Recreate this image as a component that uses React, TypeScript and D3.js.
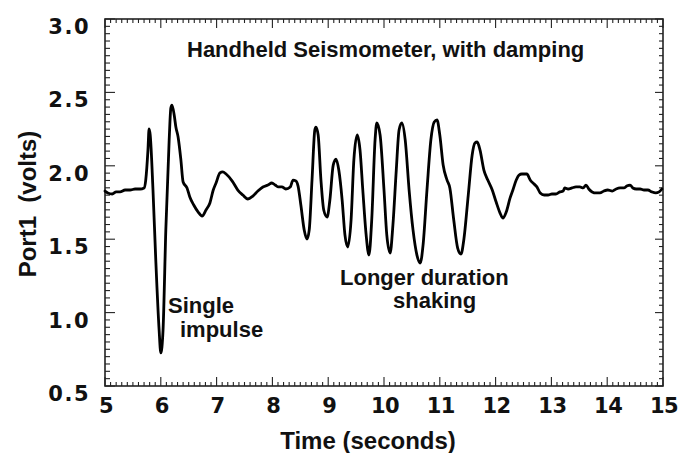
import React from "react";
import * as d3 from "d3";

const timeSec: number[] = [
  5.0, 5.05, 5.13, 5.2, 5.27, 5.36, 5.45, 5.54, 5.63, 5.7, 5.73, 5.77, 5.79, 5.81, 5.86, 5.91, 5.97, 6.0,
  6.04, 6.09, 6.15, 6.18, 6.2, 6.24, 6.27, 6.31, 6.36, 6.4, 6.47, 6.52, 6.59, 6.67, 6.74, 6.81, 6.88,
  6.94, 6.99, 7.06, 7.11, 7.17, 7.28, 7.38, 7.47, 7.56, 7.65, 7.74, 7.83, 7.92, 7.99, 8.05, 8.1, 8.17,
  8.24, 8.32, 8.37, 8.42, 8.46, 8.51, 8.57, 8.62, 8.66, 8.71, 8.76, 8.78, 8.82, 8.87, 8.92, 8.98, 9.03,
  9.09, 9.14, 9.19, 9.25, 9.3, 9.35, 9.41, 9.46, 9.52, 9.57, 9.62, 9.68, 9.73, 9.78, 9.84, 9.87, 9.93,
  10.0, 10.05, 10.11, 10.16, 10.22, 10.27, 10.32, 10.38, 10.45, 10.52, 10.59, 10.65, 10.7, 10.77, 10.84,
  10.9, 10.95, 11.0, 11.06, 11.13, 11.18, 11.25, 11.32, 11.38, 11.43, 11.51, 11.58, 11.63, 11.67, 11.72,
  11.79, 11.86, 11.94, 12.01, 12.08, 12.13, 12.19, 12.26, 12.31, 12.37, 12.42, 12.47, 12.56, 12.62,
  12.69, 12.74, 12.8, 12.87, 12.94, 13.01, 13.08, 13.15, 13.21, 13.24, 13.3, 13.37, 13.44, 13.51, 13.57,
  13.62, 13.67, 13.73, 13.8, 13.87, 13.94, 14.01, 14.09, 14.16, 14.23, 14.3, 14.35, 14.41, 14.46, 14.52,
  14.59, 14.66, 14.73, 14.8, 14.87, 14.93, 14.98,
];

const port1Volts: number[] = [
  1.828, 1.815, 1.808, 1.822, 1.822, 1.835, 1.835, 1.842, 1.842, 1.849, 1.903, 2.108, 2.251, 2.21, 1.835,
  1.358, 0.881, 0.725, 0.881, 1.563, 2.176, 2.394, 2.414, 2.346, 2.264, 2.196, 2.04, 1.89, 1.849, 1.787,
  1.733, 1.685, 1.658, 1.699, 1.747, 1.835, 1.883, 1.951, 1.958, 1.944, 1.896, 1.835, 1.801, 1.774, 1.794,
  1.828, 1.856, 1.869, 1.883, 1.869, 1.856, 1.856, 1.842, 1.856, 1.903, 1.897, 1.862, 1.733, 1.563, 1.501,
  1.563, 1.903, 2.244, 2.264, 2.21, 1.903, 1.699, 1.651, 1.767, 2.005, 2.046, 1.971, 1.767, 1.529, 1.447,
  1.631, 2.04, 2.21, 2.108, 1.835, 1.529, 1.392, 1.631, 2.176, 2.292, 2.21, 1.835, 1.529, 1.406, 1.597,
  1.971, 2.244, 2.292, 2.176, 1.835, 1.563, 1.392, 1.338, 1.46, 1.835, 2.176, 2.298, 2.312, 2.21, 2.005,
  1.903, 1.849, 1.631, 1.44, 1.399, 1.495, 1.801, 2.074, 2.155, 2.162, 2.108, 1.971, 1.903, 1.835, 1.753,
  1.678, 1.644, 1.685, 1.781, 1.835, 1.903, 1.937, 1.944, 1.944, 1.903, 1.876, 1.856, 1.815, 1.801, 1.801,
  1.808, 1.808, 1.822, 1.828, 1.849, 1.842, 1.849, 1.856, 1.856, 1.849, 1.869, 1.842, 1.822, 1.815, 1.815,
  1.828, 1.835, 1.828, 1.842, 1.849, 1.849, 1.862, 1.869, 1.849, 1.842, 1.842, 1.835, 1.835, 1.822, 1.815,
  1.822, 1.842,
];

const xTickLabels: number[] = [5, 6, 7, 8, 9, 10, 11, 12, 13, 14, 15];
const yTickLabels: string[] = ["0.5", "1.0", "1.5", "2.0", "2.5", "3.0"];

const titleText = "Handheld Seismometer, with damping";
const xTitle = "Time (seconds)";
const yTitle = "Port1  (volts)";
const note1 = ["Single", "impulse"];
const note2 = ["Longer duration", "shaking"];

const W = 678;
const H = 453;
const L = 105, R = 663, T = 19, B = 386;

export default function App() {
  const x = d3.scaleLinear().domain([5, 15]).range([L, R]);
  const y = d3.scaleLinear().domain([0.5, 3.0]).range([B, T]);

  const pts: [number, number][] = timeSec.map((t, i) => [t, port1Volts[i]]);
  const line = d3
    .line<[number, number]>()
    .x((d) => x(d[0]))
    .y((d) => y(d[1]))
    .curve(d3.curveMonotoneX);

  const xMinor = d3.range(0, 101).map((i) => 5 + i * 0.1);
  const yMinor = d3.range(0, 51).map((i) => 0.5 + i * 0.05);

  const tickFont = "'DejaVu Sans', Verdana, sans-serif";
  const textFont = "'Liberation Sans', Arial, Helvetica, sans-serif";
  const axisColor = "#222";

  return (
    <svg
      width={W}
      height={H}
      style={{ position: "absolute", left: 0, top: 0, background: "#fff" }}
    >
      <rect x={0} y={0} width={W} height={H} fill="#fff" />
      {/* minor/major ticks on x (bottom & top) */}
      {xMinor.map((v, i) => {
        const major = i % 10 === 0;
        const len = major ? 9 : 4;
        const px = x(v);
        return (
          <g key={"xt" + i}>
            <line x1={px} x2={px} y1={B} y2={B - len} stroke={axisColor} strokeWidth={1.1} />
            <line x1={px} x2={px} y1={T} y2={T + len} stroke={axisColor} strokeWidth={1.1} />
          </g>
        );
      })}
      {yMinor.map((v, i) => {
        const major = i % 10 === 0;
        const len = major ? 10 : 5;
        const py = y(v);
        return (
          <g key={"yt" + i}>
            <line x1={L} x2={L + len} y1={py} y2={py} stroke={axisColor} strokeWidth={1.1} />
            <line x1={R} x2={R - (major ? 8 : 4)} y1={py} y2={py} stroke={axisColor} strokeWidth={1.1} />
          </g>
        );
      })}
      <rect x={L} y={T} width={R - L} height={B - T} fill="none" stroke={axisColor} strokeWidth={1.6} />

      {/* tick labels */}
      {xTickLabels.map((v) => (
        <text
          key={"xl" + v}
          x={x(v) + 1}
          y={413}
          textAnchor="middle"
          fontFamily={tickFont}
          fontWeight="bold"
          fontSize={21}
          letterSpacing={-0.5}
          fill="#111"
        >
          {v}
        </text>
      ))}
      {yTickLabels.map((s) => (
        <text
          key={"yl" + s}
          x={90}
          y={y(parseFloat(s)) + 15}
          textAnchor="end"
          fontFamily={tickFont}
          fontWeight="bold"
          fontSize={21}
          letterSpacing={1.5}
          fill="#111"
        >
          {s}
        </text>
      ))}

      {/* axis titles */}
      <text
        x={368}
        y={449}
        textAnchor="middle"
        fontFamily={textFont}
        fontWeight="bold"
        fontSize={24}
        fill="#111"
      >
        {xTitle}
      </text>
      <text
        transform={`translate(36,${204}) rotate(-90)`}
        textAnchor="middle"
        fontFamily={textFont}
        fontWeight="bold"
        fontSize={24}
        fill="#111"
        style={{ whiteSpace: "pre" }}
      >
        {yTitle}
      </text>

      {/* annotations */}
      <text x={187} y={57} fontFamily={textFont} fontWeight="bold" fontSize={22} fill="#111">
        {titleText}
      </text>
      <text x={168} y={313} fontFamily={textFont} fontWeight="bold" fontSize={22} fill="#111">
        {note1[0]}
      </text>
      <text x={180} y={337} fontFamily={textFont} fontWeight="bold" fontSize={22} fill="#111">
        {note1[1]}
      </text>
      <text x={340} y={285} fontFamily={textFont} fontWeight="bold" fontSize={22} fill="#111">
        {note2[0]}
      </text>
      <text x={393} y={308} fontFamily={textFont} fontWeight="bold" fontSize={22} fill="#111">
        {note2[1]}
      </text>

      {/* signal */}
      <path
        d={line(pts) || ""}
        fill="none"
        stroke="#000"
        strokeWidth={2.8}
        strokeLinejoin="round"
        strokeLinecap="round"
      />
    </svg>
  );
}
